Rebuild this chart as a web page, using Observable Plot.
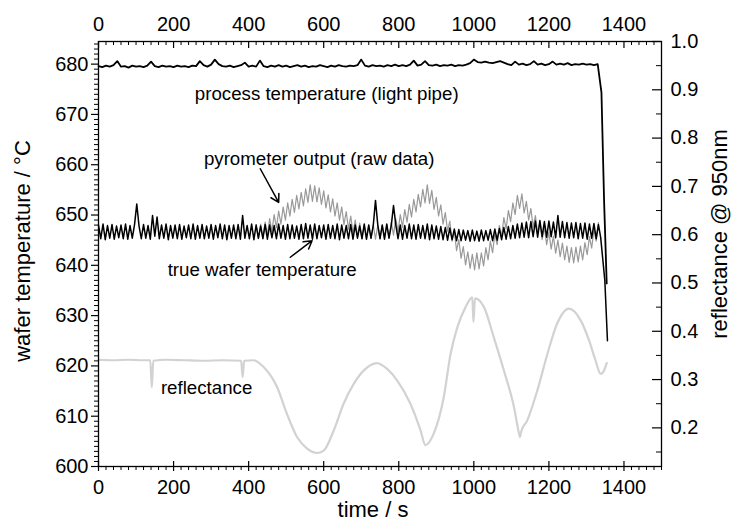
<!DOCTYPE html>
<html><head><meta charset="utf-8">
<script src="https://cdn.jsdelivr.net/npm/d3@7"></script>
<script src="https://cdn.jsdelivr.net/npm/@observablehq/plot@0.6"></script>
<style>body{margin:0;background:#fff}</style>
</head><body><div id="chart"></div>
<script>
// ---- axes / scale definitions ----
const timeDomain = [0, 1500];
const tempDomain = [600, 684.5];
const reflDomain = [0.12, 1.0];
const timeMajorTicks = [0, 200, 400, 600, 800, 1000, 1200, 1400];
const tempMajorTicks = [600, 610, 620, 630, 640, 650, 660, 670, 680];
const reflMajorTicks = [0.2, 0.3, 0.4, 0.5, 0.6, 0.7, 0.8, 0.9, 1.0];

// ---- process temperature (light pipe), sampled every 10 s from 0 s ----
const processStart = 0, processStep = 10;
const processTemp = [
  679.6,679.4,679.7,679.5,679.8,680.6,679.5,679.6,679.3,679.7,
  679.5,679.6,679.4,679.7,680.5,679.6,679.4,679.7,679.5,679.6,
  679.4,679.7,679.5,679.6,679.4,679.7,679.6,680.6,679.8,679.5,
  679.9,680.9,680.0,679.6,679.5,679.7,679.4,679.6,679.8,680.3,
  679.5,679.7,679.5,680.7,679.6,679.4,679.7,679.5,679.8,679.5,
  679.7,679.4,679.6,679.8,679.5,679.7,679.4,679.6,679.5,679.8,
  679.6,679.4,679.7,679.5,679.8,679.6,679.5,679.7,679.6,679.8,
  680.9,679.7,679.5,679.8,679.6,679.7,679.5,679.8,679.6,679.9,
  679.6,679.8,679.6,679.9,680.7,679.7,679.9,680.6,679.8,679.7,
  679.9,679.6,679.8,679.7,679.9,679.6,679.8,679.7,679.9,680.2,
  680.9,680.4,680.3,680.5,680.3,680.2,680.4,680.6,680.3,680.0,
  679.8,680.5,679.9,680.1,679.8,680.0,680.6,679.9,680.1,679.8,
  680.0,680.5,679.9,680.1,679.9,680.2,679.8,680.0,679.9,680.1,
  679.9,680.0,679.8,680.0
];
const processTailTime = [1340, 1347, 1354];
const processTailTemp = [674.4, 652.9, 636.4];

// ---- true wafer temperature, sampled every 6 s from 0 s ----
const trueStart = 0, trueStep = 6;
const trueTemp = [
  648.0,645.3,648.2,645.1,647.9,645.4,648.1,645.2,647.8,645.5,
  648.0,645.3,648.2,645.2,647.9,645.4,648.1,652.2,647.8,645.3,
  648.1,645.4,647.9,645.2,649.9,645.8,649.6,645.3,648.0,645.4,
  648.2,645.1,647.9,645.4,648.0,645.3,648.1,645.2,647.8,645.5,
  648.0,645.3,648.2,645.2,647.9,645.4,648.1,645.3,647.8,645.4,
  648.1,645.2,647.9,645.5,648.2,645.3,648.0,645.1,647.9,645.4,
  648.0,645.3,648.1,645.2,649.9,645.4,647.9,645.3,648.2,645.1,
  648.0,645.4,647.8,645.3,648.1,645.2,648.0,645.5,647.9,645.3,
  648.2,645.4,647.9,645.2,648.1,645.3,648.0,645.4,647.8,645.2,
  648.1,645.3,648.3,645.4,648.0,645.2,648.2,645.3,647.9,645.5,
  648.0,645.2,648.1,645.4,647.9,645.3,648.2,645.1,648.0,645.4,
  647.9,645.3,648.1,645.2,648.0,645.4,647.8,645.3,648.2,645.2,
  648.0,645.4,647.9,652.9,648.1,645.3,648.0,645.2,648.2,645.4,
  647.9,651.9,648.1,645.3,648.0,645.2,647.9,645.4,648.2,645.3,
  648.0,645.2,648.1,645.4,647.9,645.3,648.2,645.1,648.0,645.3,
  647.8,645.2,647.7,645.1,647.5,645.0,647.4,645.1,647.2,644.9,
  647.1,644.9,647.0,645.0,646.9,644.8,647.0,644.9,646.8,644.8,
  647.0,644.9,646.9,645.0,647.1,644.9,647.2,645.0,647.3,645.1,
  647.5,645.2,647.7,645.3,647.9,645.4,648.2,645.5,648.4,645.6,
  648.6,645.5,648.7,645.7,648.8,645.6,648.9,645.7,648.7,645.6,
  648.8,645.7,648.6,645.5,649.9,645.6,648.7,645.5,648.5,645.4,
  648.4,645.5,648.5,645.3,648.3,645.4,648.4,645.2,648.2,645.4,
  648.3,645.3,648.1
];
const trueTailTime = [1338, 1349, 1356];
const trueTailTemp = [645.5, 637.0, 625.0];

// ---- pyrometer output (raw data), sampled every 6 s from 420 s ----
const pyroStart = 420, pyroStep = 6;
const pyroTemp = [
  648.1,645.3,648.2,645.4,648.6,646.0,649.3,646.7,650.1,647.5,
  650.8,648.2,651.6,649.0,652.4,649.8,653.1,650.5,653.9,651.2,
  654.5,651.8,655.2,652.5,656.0,652.7,655.8,652.6,655.4,652.1,
  654.8,651.4,654.0,650.6,653.2,649.8,652.4,649.0,651.6,648.1,
  650.7,647.2,649.8,646.4,649.0,645.7,648.4,645.3,648.0,645.2,
  648.0,645.3,648.1,645.2,647.9,645.3,648.0,645.4,648.1,645.5,
  648.6,646.0,649.3,646.7,650.1,647.6,651.1,648.6,652.1,649.6,
  653.1,650.6,654.1,651.6,655.1,652.4,656.0,652.3,654.9,651.1,
  653.5,649.8,652.0,648.2,650.5,646.8,648.8,644.8,646.8,642.9,
  645.1,641.4,643.7,640.1,642.7,639.4,642.2,639.1,642.5,639.3,
  642.5,639.9,643.5,641.1,644.8,642.5,646.3,644.1,647.9,645.7,
  649.5,647.2,650.9,648.7,652.4,650.1,653.9,651.3,654.2,650.4,
  652.7,649.0,651.3,647.6,649.9,646.3,648.6,645.1,647.6,644.1,
  646.6,643.2,645.8,642.4,645.0,641.7,644.4,641.1,643.8,640.6,
  643.5,640.5,643.6,640.7,643.8,641.1,644.5,642.1,645.7,643.4,
  647.1,644.8,648.5
];

// ---- reflectance @ 950 nm ----
const reflTime = [0,40,80,120,138,142,146,180,230,280,
  330,380,384,388,413,440,476,502,529,556,
  582,600,627,653,680,707,742,769,796,831,
  858,871,893,920,938,956,978,996,999,1003,
  1027,1053,1080,1107,1120,1123,1126,1142,1169,1196,
  1222,1253,1285,1307,1324,1338,1347,1354];
const reflValue = [0.341,0.340,0.341,0.340,0.340,0.284,0.339,0.341,0.340,0.339,
  0.340,0.339,0.305,0.339,0.340,0.326,0.284,0.229,0.181,0.157,
  0.148,0.153,0.195,0.250,0.291,0.319,0.334,0.322,0.298,0.250,
  0.195,0.164,0.188,0.264,0.353,0.408,0.450,0.470,0.419,0.468,
  0.450,0.388,0.319,0.243,0.190,0.181,0.192,0.215,0.277,0.353,
  0.416,0.447,0.422,0.381,0.340,0.312,0.319,0.334];

// ---- annotations (data coordinates: time s, temperature °C) ----
const labelText = ["process temperature (light pipe)", "pyrometer output (raw data)", "true wafer temperature", "reflectance"];
const labelTime = [608, 588, 436, 288];
const labelTemp = [674.0, 661.2, 639.1, 615.6];
const arrowFromTime = [431, 511];
const arrowFromTemp = [659.2, 641.6];
const arrowToTime = [480, 569];
const arrowToTemp = [652.5, 644.9];

// ---- build tables ----
const toT = r => tempDomain[0] + (r - reflDomain[0]) * (tempDomain[1] - tempDomain[0]) / (reflDomain[1] - reflDomain[0]);
const fromT = t => reflDomain[0] + (t - tempDomain[0]) * (reflDomain[1] - reflDomain[0]) / (tempDomain[1] - tempDomain[0]);
const grid = (vals, start, step) => vals.map((v, i) => ({t: start + i * step, v}));
const processData = grid(processTemp, processStart, processStep).concat(processTailTime.map((t, i) => ({t, v: processTailTemp[i]})));
const trueData = grid(trueTemp, trueStart, trueStep).concat(trueTailTime.map((t, i) => ({t, v: trueTailTemp[i]})));
const pyroData = grid(pyroTemp, pyroStart, pyroStep);
const reflData = reflTime.map((t, i) => ({t, v: toT(reflValue[i])}));
const labels = labelText.map((s, i) => ({s, t: labelTime[i], v: labelTemp[i]}));
const arrows = arrowFromTime.map((t, i) => ({x1: t, y1: arrowFromTemp[i], x2: arrowToTime[i], y2: arrowToTemp[i]}));

const xMinor = d3.range(0, 1501, 20).filter(d => d % 200 !== 0);
const yMinor = d3.range(600, 685, 1).filter(d => d % 10 !== 0);
const rMinor = [0.15,0.25,0.35,0.45,0.55,0.65,0.75,0.85,0.95].map(toT);
const rMajor = reflMajorTicks.map(toT);

const W = 736, H = 528, mL = 98, mR = 75, mT = 41, mB = 62;
const FW = W - mL - mR, FH = H - mT - mB;

const chart = Plot.plot({
  width: W, height: H,
  marginLeft: mL, marginRight: mR, marginTop: mT, marginBottom: mB,
  style: {fontFamily: "'Liberation Sans', Arial, sans-serif", fontSize: "20px", background: "#fff", color: "#000"},
  x: {domain: timeDomain, axis: null},
  y: {domain: tempDomain, axis: null},
  marks: [
    Plot.line(reflData, {x: "t", y: "v", stroke: "#d2d2d2", strokeWidth: 2.2, curve: "monotone-x"}),
    Plot.line(pyroData, {x: "t", y: "v", stroke: "#999", strokeWidth: 1.2}),
    Plot.line(trueData, {x: "t", y: "v", stroke: "#000", strokeWidth: 1.5}),
    Plot.line(processData, {x: "t", y: "v", stroke: "#000", strokeWidth: 1.8}),
    Plot.frame({stroke: "#000", strokeWidth: 1.3}),
    // bottom ticks
    Plot.tickX(timeMajorTicks, {x: d => d, insetTop: FH - 5, insetBottom: -5, stroke: "#000", strokeWidth: 1.2}),
    Plot.tickX(xMinor, {x: d => d, insetTop: FH, insetBottom: -4, stroke: "#000"}),
    // top ticks (inward)
    Plot.tickX(timeMajorTicks, {x: d => d, insetTop: 0, insetBottom: FH - 7, stroke: "#000", strokeWidth: 1.2}),
    Plot.tickX(xMinor, {x: d => d, insetTop: 0, insetBottom: FH - 4, stroke: "#000"}),
    // left ticks (outward)
    Plot.tickY(tempMajorTicks, {y: d => d, insetLeft: -7, insetRight: FW, stroke: "#000", strokeWidth: 1.2}),
    Plot.tickY(yMinor, {y: d => d, insetLeft: -4, insetRight: FW, stroke: "#000"}),
    // right ticks (inward)
    Plot.tickY(rMajor, {y: d => d, insetLeft: FW - 9, insetRight: 0, stroke: "#000", strokeWidth: 1.2}),
    Plot.tickY(rMinor, {y: d => d, insetLeft: FW - 5, insetRight: 0, stroke: "#000"}),
    // tick labels
    Plot.axisX(timeMajorTicks, {anchor: "bottom", tickSize: 0, tickPadding: 13, label: null, tickFormat: d => String(d)}),
    Plot.axisX(timeMajorTicks, {anchor: "top", tickSize: 0, tickPadding: 11, label: null, tickFormat: d => String(d)}),
    Plot.axisY(tempMajorTicks, {anchor: "left", tickSize: 0, tickPadding: 10, label: null, tickFormat: d => String(d)}),
    Plot.axisY(rMajor, {anchor: "right", tickSize: 0, tickPadding: 9, label: null, tickFormat: t => fromT(t).toFixed(1)}),
    // axis titles
    Plot.text(["time / s"], {frameAnchor: "bottom", dx: -7, dy: 50, fontSize: 22, textAnchor: "middle"}),
    Plot.text(["wafer temperature / °C"], {frameAnchor: "left", dx: -76, dy: -3, rotate: -90, fontSize: 22, textAnchor: "middle"}),
    Plot.text(["reflectance @ 950nm"], {frameAnchor: "right", dx: 58, dy: -20, rotate: -90, fontSize: 22, textAnchor: "middle"}),
    // annotations
    Plot.text(labels, {x: "t", y: "v", text: "s", fontSize: 18.7, fill: "#000"}),
    Plot.arrow(arrows, {x1: "x1", y1: "y1", x2: "x2", y2: "y2", stroke: "#000", strokeWidth: 1.5, headLength: 9})
  ]
});
document.getElementById("chart").appendChild(chart);
</script>
</body></html>
